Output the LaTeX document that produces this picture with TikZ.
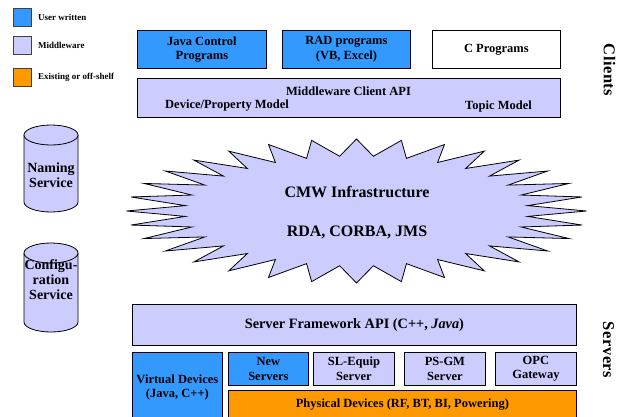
\documentclass[tikz,border=0pt]{standalone}
\usepackage{fontspec}
\setmainfont{Liberation Serif}
\newfontfamily\sidefont[LetterSpace=3]{Liberation Serif}
\definecolor{userblue}{HTML}{3399FF}
\definecolor{midlav}{HTML}{CCCCFF}
\definecolor{shelforange}{HTML}{FF9900}
\begin{document}
\begin{tikzpicture}[x=1pt,y=-1pt,
  box/.style={draw=black, line width=0.8pt, inner sep=0pt, anchor=north west,
    font=\fontsize{12.5}{14.5}\selectfont\bfseries, align=center},
  user/.style={box, fill=userblue},
  mid/.style={box, fill=midlav},
  shelf/.style={box, fill=shelforange},
  plain/.style={box, fill=white},
  lsq/.style={draw=black!75, line width=0.8pt, minimum width=18, minimum height=18, inner sep=0pt, anchor=north west},
  ltext/.style={font=\fontsize{9}{10}\selectfont\bfseries, anchor=west, inner sep=0pt},
  txt/.style={font=\fontsize{12.5}{14.5}\selectfont\bfseries, align=center, inner sep=0pt},
  cyltxt/.style={font=\fontsize{14}{15}\selectfont\bfseries, align=center, inner sep=0pt},
  bigtxt/.style={font=\fontsize{16}{19}\selectfont\bfseries, inner sep=0pt},
  side/.style={font=\fontsize{16.5}{18}\sidefont\bfseries, rotate=-90, inner sep=0pt},
  cyl/.style={draw=black, line width=0.8pt, fill=midlav}
]
\clip (0,0) rectangle (623,416);
\fill[white] (0,0) rectangle (623,416);

% legend
\node[lsq, fill=userblue] (lu) at (13,8) {};
\node[ltext] (lut) at (38,17) {User written};
\node[lsq, fill=midlav] (lm) at (13,36) {};
\node[ltext] (lmt) at (38,45) {Middleware};
\node[lsq, fill=shelforange] (lo) at (13,68) {};
\node[ltext] (lot) at (38,77) {Existing or off-shelf};

% clients
\node[user, minimum width=129, minimum height=38] (java) at (137,30) {Java Control\\Programs};
\node[user, minimum width=128, minimum height=38] (rad) at (282,30) {RAD programs\\(VB, Excel)};
\node[plain, minimum width=128, minimum height=38] (cprog) at (432,30) {C Programs};
\node[mid, minimum width=423, minimum height=39] (mwapi) at (137,78) {};
\node[txt] (mwt) at (348.5,91) {Middleware Client API};
\node[txt, anchor=west] (devprop) at (165,106) {Device/Property Model};
\node[txt, anchor=east] (topic) at (532,106) {Topic Model};
\node[side] (clients) at (609.5,70) {Clients};

% cylinders
\draw[cyl] (24,135) -- (24,202) arc[start angle=180, end angle=0, x radius=27, y radius=10] -- (78,135)
  arc[start angle=0, end angle=-180, x radius=27, y radius=10] -- cycle;
\draw[cyl] (24,135) arc[start angle=180, end angle=0, x radius=27, y radius=10];
\node[cyltxt] (naming) at (51,175.5) {Naming\\Service};

\draw[cyl] (24,253) -- (24,322) arc[start angle=180, end angle=0, x radius=27, y radius=10] -- (78,253)
  arc[start angle=0, end angle=-180, x radius=27, y radius=10] -- cycle;
\draw[cyl] (24,253) arc[start angle=180, end angle=0, x radius=27, y radius=10];
\node[cyltxt] (config) at (51,280) {Configu-\\ration\\Service};

% starburst
\draw[line width=0.8pt, fill=midlav, line join=miter]
  (356.5+230,211)
  \foreach \k in {0,...,31} {
    -- ({356.5+172*cos(11.25*\k+5.625)},{211+55*sin(11.25*\k+5.625)})
    -- ({356.5+230*cos(11.25*\k+11.25)},{211+72*sin(11.25*\k+11.25)})
  } -- cycle;
\node[bigtxt] (cmw) at (357,192) {CMW Infrastructure};
\node[bigtxt] (rda) at (357,232) {RDA, CORBA, JMS};

% servers
\node[mid, minimum width=444, minimum height=41, font=\fontsize{14.3}{17}\selectfont\bfseries] (sfw) at (132,304) {Server Framework API (C++, \textit{Java})};
\node[user, minimum width=90, minimum height=70] (virt) at (132,352) {Virtual Devices\\(Java, C++)};
\node[user, minimum width=80, minimum height=33] (newsrv) at (228,352) {New\\Servers};
\node[mid, minimum width=81, minimum height=33] (slequip) at (313,352) {SL-Equip\\Server};
\node[mid, minimum width=81, minimum height=33] (psgm) at (404,352) {PS-GM\\Server};
\node[mid, minimum width=81, minimum height=33] (opc) at (495,352) {OPC\\Gateway};
\node[shelf, minimum width=348, minimum height=29] (phys) at (228,390) {Physical Devices (RF, BT, BI, Powering)};
\node[side] (servers) at (608.5,350) {Servers};
\end{tikzpicture}
\end{document}
